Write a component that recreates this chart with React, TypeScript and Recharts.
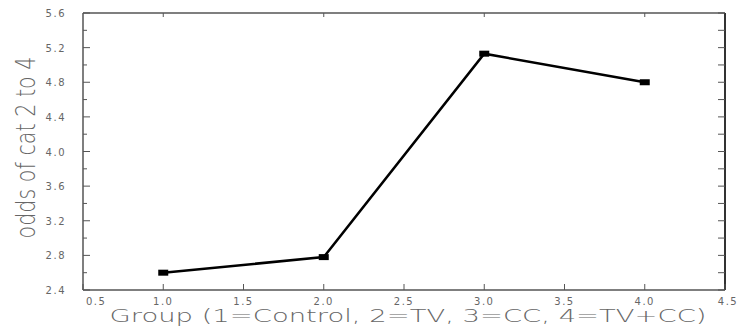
import React from 'react'
import { LineChart, Line, XAxis, YAxis } from 'recharts'

// group codes and the odds of category 2 to 4 in each group
const groups = [1, 2, 3, 4]
const odds = [2.6, 2.78, 5.13, 4.8]

const xTicks = [0.5, 1.0, 1.5, 2.0, 2.5, 3.0, 3.5, 4.0, 4.5]
const topTicks = [1, 2, 3, 4]
const yTicks = [2.4, 2.6, 2.8, 3.0, 3.2, 3.4, 3.6, 3.8, 4.0, 4.2, 4.4, 4.6, 4.8, 5.0, 5.2, 5.4, 5.6]

const data = groups.map((g, i) => ({ group: g, odds: odds[i] }))

const axisColor = '#555'
const textColor = '#666'
const tickFont = 'DejaVu Sans, sans-serif'

const BottomTick = (props: any) => {
    const { x, y, payload } = props
    const v = payload.value
    let tx = x
    let anchor: 'middle' | 'start' = 'middle'
    if (v === 0.5) { tx = x + 3; anchor = 'start' }
    if (v === 4.5) { tx = x + 3 }
    return (
        <g>
            <line x1={x} y1={y} x2={x} y2={y - 6} stroke={axisColor} strokeWidth={1} />
            <text x={tx} y={y + 15} textAnchor={anchor} fontSize={10} fontFamily={tickFont}
                  letterSpacing={1.5} fill={textColor}>{v.toFixed(1)}</text>
        </g>
    )
}

const TopTick = (props: any) => {
    const { x, y } = props
    return <line x1={x} y1={y} x2={x} y2={y + 4} stroke={axisColor} strokeWidth={1} />
}

const LeftTick = (props: any) => {
    const { x, y, payload } = props
    const v = payload.value
    const major = Math.round(v * 10) % 4 === 0
    return (
        <g>
            <line x1={x} y1={y} x2={x + (major ? 7 : 4)} y2={y} stroke={axisColor} strokeWidth={1} />
            {major && (
                <text x={x - 17} y={y + 4} textAnchor="end" fontSize={10} fontFamily={tickFont}
                      letterSpacing={1.5} fill={textColor}>{v.toFixed(1)}</text>
            )}
        </g>
    )
}

const RightTick = (props: any) => {
    const { x, y } = props
    return <line x1={x} y1={y} x2={x - 7} y2={y} stroke={axisColor} strokeWidth={1} />
}

const SquareDot = (props: any) => {
    const { cx, cy } = props
    return <rect x={cx - 5} y={cy - 3} width={10} height={6} fill="#000" />
}

export default function App() {
    return (
        <div style={{ position: 'absolute', left: 0, top: 0, width: 738, height: 333, background: '#fff' }}>
            <LineChart width={738} height={333} data={data}
                       margin={{ top: 12, right: 12, bottom: 0, left: 38 }}>
                <XAxis xAxisId="b" dataKey="group" type="number" domain={[0.5, 4.5]} ticks={xTicks}
                       height={43} tickSize={0} tickMargin={0} tick={<BottomTick />} interval={0}
                       axisLine={{ stroke: axisColor, strokeWidth: 1.5 }}
                       label={{
                           content: (p: any) => {
                               const vb = p.viewBox
                               return (
                                   <text x={vb.x + vb.width / 2 + 4} y={vb.y + 32} textAnchor="middle"
                                         fontSize={17} fontWeight={200} fontFamily={tickFont} fill={textColor}
                                         textLength={597} lengthAdjust="spacingAndGlyphs">
                                       Group (1=Control, 2=TV, 3=CC, 4=TV+CC)
                                   </text>
                               )
                           },
                       }} />
                <XAxis xAxisId="t" dataKey="group" orientation="top" type="number" domain={[0.5, 4.5]}
                       ticks={topTicks} height={1} tickSize={0} tickMargin={0} tick={<TopTick />} interval={0}
                       axisLine={{ stroke: axisColor, strokeWidth: 1.5 }} />
                <YAxis yAxisId="l" type="number" domain={[2.4, 5.6]} ticks={yTicks} width={45}
                       tickSize={0} tickMargin={0} tick={<LeftTick />} interval={0}
                       axisLine={{ stroke: axisColor, strokeWidth: 1.5 }}
                       label={{
                           content: (p: any) => {
                               const vb = p.viewBox
                               const cx = vb.x - 12
                               const cy = vb.y + vb.height / 2 - 4
                               return (
                                   <text x={cx} y={cy} transform={`rotate(-90 ${cx} ${cy})`}
                                         textAnchor="middle" dominantBaseline="central"
                                         fontSize={26} fontWeight={200} fontFamily={tickFont}
                                         fill="#666" textLength={182} lengthAdjust="spacingAndGlyphs">
                                       odds of cat 2 to 4
                                   </text>
                               )
                           },
                       }} />
                <YAxis yAxisId="r" orientation="right" type="number" domain={[2.4, 5.6]} ticks={yTicks}
                       width={1} tickSize={0} tickMargin={0} tick={<RightTick />} interval={0}
                       axisLine={{ stroke: '#333', strokeWidth: 2 }} />
                {/* invisible series so the top and right frame axes are drawn */}
                <Line xAxisId="t" yAxisId="r" dataKey="odds" stroke="none" dot={false}
                      activeDot={false} isAnimationActive={false} />
                <Line xAxisId="b" yAxisId="l" dataKey="odds" stroke="#000" strokeWidth={2.5}
                      dot={<SquareDot />} activeDot={false} isAnimationActive={false} />
            </LineChart>
        </div>
    )
}
